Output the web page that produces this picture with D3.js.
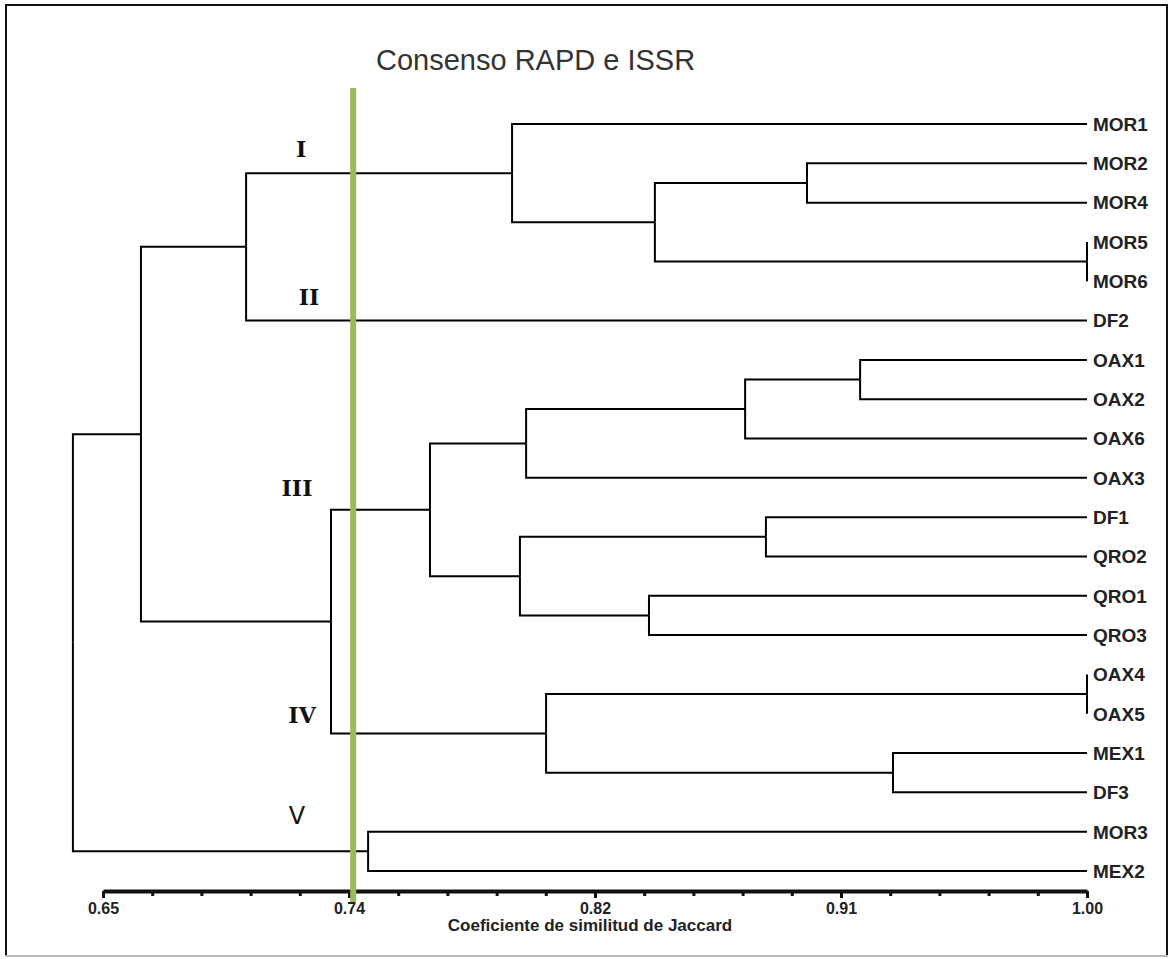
<!DOCTYPE html>
<html>
<head>
<meta charset="utf-8">
<script src="https://cdn.jsdelivr.net/npm/d3@7"></script>
<style>
    body { margin: 0; background: #fff; }
    svg { display: block; }
</style>
</head>
<body>
<div id="dendro"></div>
<script>
// leaves, top to bottom
var leafNames = ["MOR1", "MOR2", "MOR4", "MOR5", "MOR6", "DF2", "OAX1", "OAX2", "OAX6", "OAX3",
    "DF1", "QRO2", "QRO1", "QRO3", "OAX4", "OAX5", "MEX1", "DF3", "MOR3", "MEX2"];

// merges: cluster "c" + i joins mergeA[i] and mergeB[i] at mergeSim[i]
var mergeA = ["MOR5", "OAX4", "MEX1", "OAX1", "MOR2", "DF1", "c3", "c4", "QRO1", "c1",
    "c6", "c5", "MOR1", "c10", "MOR3", "c13", "c12", "c16", "c17"];
var mergeB = ["MOR6", "OAX5", "DF3", "OAX2", "MOR4", "QRO2", "OAX6", "c0", "QRO3", "c2",
    "OAX3", "c8", "c7", "c11", "MEX2", "c9", "DF2", "c15", "c14"];
var mergeSim = [1.00, 1.00, 0.931, 0.9193, 0.9004, 0.8858, 0.8784, 0.8463, 0.8442, 0.8076,
    0.8005, 0.7983, 0.7955, 0.7663, 0.7443, 0.7311, 0.7009, 0.6635, 0.6393];

// axis ticks
var majorTicks = [0.65, 0.7375, 0.825, 0.9125, 1.00];
var majorLabels = ["0.65", "0.74", "0.82", "0.91", "1.00"];
var cutoff = 0.739;

// group labels (placed next to a leaf row, at a similarity value)
var groupNames = ["I", "II", "III", "IV", "V"];
var groupSim = [0.7205, 0.7233, 0.719, 0.7208, 0.719];
var groupLeaf = ["MOR1", "DF2", "OAX3", "MEX1", "MOR3"];

var width = 1172, height = 959;

var svg = d3.select("#dendro").append("svg")
    .attr("width", width)
    .attr("height", height);

// frame
svg.append("rect")
    .attr("x", 6).attr("y", 5)
    .attr("width", 1161).attr("height", 951)
    .attr("fill", "none")
    .attr("stroke", "#111")
    .attr("stroke-width", 2);
svg.append("line")
    .attr("x1", 5).attr("x2", 1168)
    .attr("y1", 956).attr("y2", 956)
    .attr("stroke", "#bbb")
    .attr("stroke-width", 2);

// scales
var x = d3.scaleLinear().domain([0.65, 1.00]).range([103, 1087]);
var y = d3.scalePoint().domain(leafNames).range([124, 871]);

// build the tree
var nodes = {};
leafNames.forEach(function (n) {
    nodes[n] = { name: n, sim: 1.00, y: y(n), children: null };
});
mergeA.forEach(function (a, i) {
    var kids = [nodes[a], nodes[mergeB[i]]];
    nodes["c" + i] = {
        name: "c" + i,
        sim: mergeSim[i],
        y: d3.mean(kids, function (k) { return k.y; }),
        children: kids
    };
});
var root = nodes["c" + (mergeA.length - 1)];

// collect links (child -> parent elbows)
var links = [];
(function walk(n) {
    if (!n.children) return;
    n.children.forEach(function (c) {
        links.push({ source: n, target: c });
        walk(c);
    });
})(root);

svg.append("g")
    .selectAll("path")
    .data(links)
    .enter().append("path")
    .attr("fill", "none")
    .attr("stroke", "#000")
    .attr("stroke-width", 2)
    .attr("d", function (d) {
        return "M" + x(d.target.sim) + "," + d.target.y +
            "H" + x(d.source.sim) + "V" + d.source.y;
    });

// leaf labels
svg.append("g")
    .selectAll("text")
    .data(leafNames)
    .enter().append("text")
    .attr("x", x(1.00) + 6)
    .attr("y", function (d) { return y(d); })
    .attr("dy", "0.36em")
    .attr("font-family", "Liberation Sans, Arial, sans-serif")
    .attr("font-weight", "bold")
    .attr("font-size", 19)
    .attr("fill", "#222")
    .text(function (d) { return d; });

// minor ticks
var minorTicks = d3.range(0, 21).map(function (i) { return 0.65 + i * 0.0175; });
svg.append("g")
    .attr("transform", "translate(0,891)")
    .call(d3.axisBottom(x).tickValues(minorTicks).tickSize(5).tickSizeOuter(0).tickFormat(""))
    .call(function (g) {
        g.select(".domain").attr("stroke", "#111").attr("stroke-width", 4);
        g.selectAll(".tick line").attr("stroke", "#111").attr("stroke-width", 3);
    });

// major ticks and labels
svg.append("g")
    .attr("transform", "translate(0,891)")
    .call(d3.axisBottom(x).tickValues(majorTicks).tickSize(7).tickSizeOuter(0)
        .tickFormat(function (d, i) { return majorLabels[i]; }))
    .call(function (g) {
        g.select(".domain").remove();
        g.selectAll(".tick line").attr("stroke", "#111").attr("stroke-width", 3);
        g.selectAll(".tick text")
            .attr("y", 12)
            .attr("font-family", "Liberation Sans, Arial, sans-serif")
            .attr("font-weight", "bold")
            .attr("font-size", 16)
            .attr("fill", "#222");
    });

// axis title
svg.append("text")
    .attr("x", 590)
    .attr("y", 931)
    .attr("text-anchor", "middle")
    .attr("font-family", "Liberation Sans, Arial, sans-serif")
    .attr("font-weight", "bold")
    .attr("font-size", 17)
    .attr("fill", "#222")
    .text("Coeficiente de similitud de Jaccard");

// cut-off line
svg.append("line")
    .attr("x1", x(cutoff)).attr("x2", x(cutoff))
    .attr("y1", 88).attr("y2", 902)
    .attr("stroke", "#9bbb59")
    .attr("stroke-width", 6);

// title
svg.append("text")
    .attr("x", 376)
    .attr("y", 70)
    .attr("font-family", "Liberation Sans, Arial, sans-serif")
    .attr("font-size", 29)
    .attr("fill", "#333")
    .text("Consenso RAPD e ISSR");

// group labels
var groupDy = { "I": 33, "II": -16, "III": 18, "IV": -30, "V": -8 };
svg.append("g")
    .selectAll("text")
    .data(groupNames)
    .enter().append("text")
    .attr("x", function (d, i) { return x(groupSim[i]); })
    .attr("y", function (d, i) { return y(groupLeaf[i]) + groupDy[d]; })
    .attr("text-anchor", "middle")
    .attr("font-family", function (d) { return d == "V" ? "DejaVu Sans, sans-serif" : "DejaVu Serif, serif"; })
    .attr("font-weight", function (d) { return d == "V" ? "normal" : "bold"; })
    .attr("font-size", function (d) { return d == "V" ? 24 : 22; })
    .attr("fill", "#111")
    .text(function (d) { return d; });
</script>
</body>
</html>
